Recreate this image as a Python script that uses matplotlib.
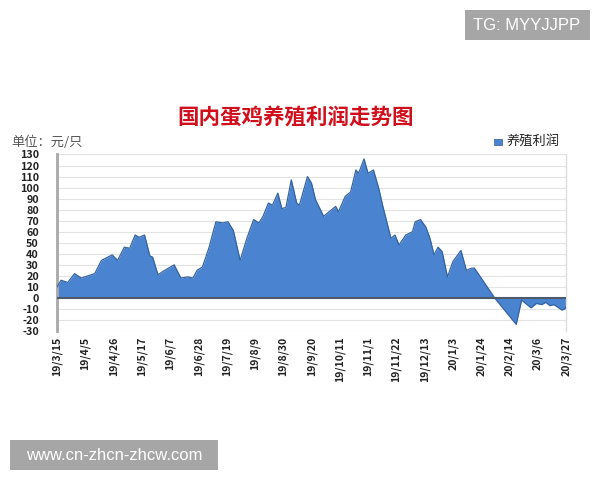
import matplotlib
matplotlib.use("Agg")
import matplotlib.pyplot as plt
import numpy as np
import pandas as pd
from matplotlib.patches import Rectangle

plt.rcParams['font.family'] = ['Noto Sans CJK SC', 'DejaVu Sans']

dates = ["2019-03-15", "2019-03-18", "2019-03-23", "2019-03-28", "2019-04-02", "2019-04-07",
         "2019-04-12", "2019-04-17", "2019-04-25", "2019-04-29", "2019-05-04", "2019-05-08",
         "2019-05-12", "2019-05-15", "2019-05-19", "2019-05-23", "2019-05-25", "2019-05-29",
         "2019-06-03", "2019-06-10", "2019-06-15", "2019-06-20", "2019-06-24", "2019-06-27",
         "2019-07-01", "2019-07-06", "2019-07-11", "2019-07-16", "2019-07-20", "2019-07-24",
         "2019-07-29", "2019-08-03", "2019-08-08", "2019-08-12", "2019-08-15", "2019-08-19",
         "2019-08-22", "2019-08-26", "2019-08-29", "2019-09-01", "2019-09-05", "2019-09-09",
         "2019-09-11", "2019-09-17", "2019-09-20", "2019-09-23", "2019-09-29", "2019-10-03",
         "2019-10-08", "2019-10-10", "2019-10-15", "2019-10-19", "2019-10-23", "2019-10-25",
         "2019-10-29", "2019-11-01", "2019-11-05", "2019-11-09", "2019-11-12", "2019-11-18",
         "2019-11-21", "2019-11-24", "2019-11-29", "2019-12-04", "2019-12-06", "2019-12-10",
         "2019-12-14", "2019-12-17", "2019-12-20", "2019-12-23", "2019-12-26", "2019-12-30",
         "2020-01-03", "2020-01-09", "2020-01-13", "2020-01-17", "2020-01-19", "2020-02-03",
         "2020-02-19", "2020-02-23", "2020-02-26", "2020-03-01", "2020-03-05", "2020-03-09",
         "2020-03-12", "2020-03-15", "2020-03-18", "2020-03-24", "2020-03-26", "2020-03-27"]
profit = [10, 16, 14, 22, 18, 20,
          22, 34, 39, 34, 46, 45,
          57, 55, 57, 38, 37, 21,
          25, 30, 18, 19, 18, 25,
          28, 46, 69, 68, 69, 61,
          34, 54, 71, 68, 74, 86,
          84, 95, 81, 82, 107, 86,
          84, 110, 104, 89, 74, 78,
          83, 78, 92, 96, 116, 113,
          126, 113, 116, 99, 83, 54,
          57, 48, 57, 60, 69, 71,
          64, 54, 39, 46, 42, 19,
          33, 43, 25, 27, 27, 0,
          -24, -2, -5, -9, -5, -6,
          -4, -7, -6, -11, -10, -8]
tick_labels = ["19/3/15", "19/4/5", "19/4/26", "19/5/17", "19/6/7", "19/6/28", "19/7/19",
               "19/8/9", "19/8/30", "19/9/20", "19/10/11", "19/11/1", "19/11/22", "19/12/13",
               "20/1/3", "20/1/24", "20/2/14", "20/3/6", "20/3/27"]
yticks = list(range(-30, 131, 10))

x = pd.to_datetime(dates)
tick_dates = pd.to_datetime(["20" + t.replace("/", "-") for t in tick_labels])

fig = plt.figure(figsize=(6, 4.8), dpi=100)
ax = fig.add_axes([57/600, 1-331/480, (566-57)/600, (331-154.5)/480])

ax.set_ylim(-30, 130)
ax.set_xlim(x[0], x[-1])
ax.set_yticks(yticks)
for v in yticks:
    ax.axhline(v, color='#e3e3e3', lw=0.8, zorder=0)

ax.fill_between(x, profit, 0, color='#4a84d0', lw=0, zorder=2)
ax.plot(x, profit, color='#34649f', lw=0.9, zorder=3)
ax.axhline(0, color='#4d5a6c', lw=1.5, zorder=4)

ax.set_xticks(tick_dates)
ax.set_xticklabels(tick_labels, rotation=90, fontsize=7.6, fontweight='bold', color='#222')
ax.set_yticklabels([str(v) for v in yticks], fontsize=7.8, fontweight='bold', color='#222')
ax.tick_params(axis='both', length=0, pad=4)
ax.tick_params(axis='y', pad=13)

for s in ['top', 'bottom']:
    ax.spines[s].set_visible(False)
ax.spines['left'].set_color('#a8a8a8')
ax.spines['left'].set_linewidth(2)
ax.spines['right'].set_color('#dddddd')
ax.spines['right'].set_linewidth(1)

fig.text(0.493, 1-117/480, '国内蛋鸡养殖利润走势图', ha='center', va='center',
         fontsize=15.5, fontweight='bold', color='#d0101c')
fig.text(11/600, 1-142/480, '单位：元/只', ha='left', va='center', fontsize=9.5, color='#555555')

fig.patches.append(Rectangle((494/600, 1-145/480), 8/600, 6/480, transform=fig.transFigure,
                             facecolor='#4a84d0', edgecolor='#2f5e9a', lw=0.5))
fig.text(507/600, 1-142/480, '养殖利润', ha='left', va='center', fontsize=9.5, color='#222')

fig.patches.append(Rectangle((465/600, 1-40/480), 125/600, 30/480, transform=fig.transFigure,
                             facecolor='#a6a6a6', edgecolor='none'))
fig.text(527/600, 1-25/480, 'TG: MYYJJPP', ha='center', va='center', fontsize=12, color='white',
         family='Liberation Sans')
fig.patches.append(Rectangle((10/600, 1-470/480), 208/600, 30/480, transform=fig.transFigure,
                             facecolor='#a6a6a6', edgecolor='none'))
fig.text(114/600, 1-455/480, 'www.cn-zhcn-zhcw.com', ha='center', va='center', fontsize=12,
         color='white', family='Liberation Sans')

fig.savefig('out.png', dpi=100)
